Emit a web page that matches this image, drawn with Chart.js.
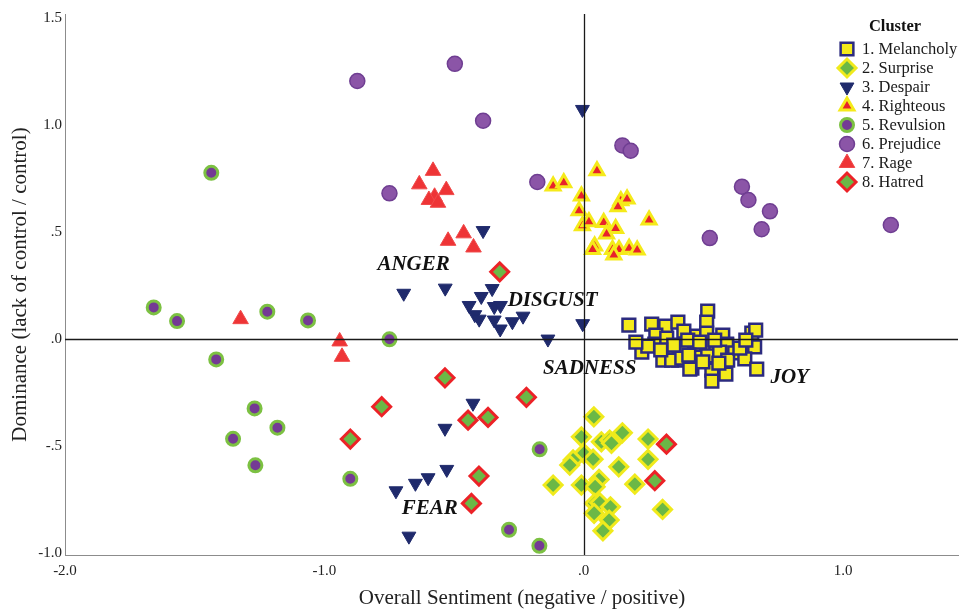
<!DOCTYPE html>
<html><head><meta charset="utf-8">
<script src="https://cdn.jsdelivr.net/npm/chart.js@4/dist/chart.umd.min.js"></script>
<style>html,body{margin:0;padding:0;background:#fff}#wrap{width:959px;height:612px}</style>
</head><body><div id="wrap"><canvas id="c" width="959" height="612"></canvas></div>
<script>
// ---------- DATA ----------
const clusterNames = ['1. Melancholy','2. Surprise','3. Despair','4. Righteous','5. Revulsion','6. Prejudice','7. Rage','8. Hatred'];
const xTicks = [-2, -1, 0, 1];
const yTicks = [-1, -0.5, 0, 0.5, 1, 1.5];
const emotionLabels = ['ANGER','DISGUST','SADNESS','JOY','FEAR'];
const emotionX = [-0.656, -0.12, 0.023, 0.794, -0.594];
const emotionY = [0.346, 0.182, -0.136, -0.182, -0.794];

const melancholy = [[0.174,0.065],[0.262,0.070],[0.316,0.061],[0.363,0.079],[0.386,0.037],[0.478,0.131],[0.474,0.079],[0.436,0.014],[0.474,0.028],[0.536,0.019],[0.551,-0.023],[0.648,0.028],[0.663,0.042],[0.659,-0.037],[0.224,-0.061],[0.278,0.019],[0.274,-0.023],[0.320,0.005],[0.320,-0.061],[0.366,-0.098],[0.378,-0.047],[0.417,-0.136],[0.436,-0.037],[0.474,-0.028],[0.509,-0.065],[0.551,-0.028],[0.582,-0.065],[0.621,-0.093],[0.436,-0.084],[0.478,-0.079],[0.524,-0.061],[0.555,-0.098],[0.305,-0.098],[0.339,-0.098],[0.378,-0.089],[0.409,-0.140],[0.494,-0.145],[0.548,-0.164],[0.667,-0.140],[0.494,-0.196],[0.401,-0.005],[0.447,-0.014],[0.347,-0.028],[0.247,-0.033],[0.297,-0.051],[0.505,-0.005],[0.602,-0.042],[0.625,-0.005],[0.201,-0.014],[0.405,-0.075],[0.459,-0.107],[0.521,-0.112]];
const surprise = [[0.039,-0.363],[-0.009,-0.457],[0.068,-0.480],[0.100,-0.472],[0.107,-0.487],[0.149,-0.438],[0.248,-0.467],[0.000,-0.534],[0.036,-0.561],[-0.041,-0.565],[-0.054,-0.589],[0.135,-0.597],[0.248,-0.562],[-0.118,-0.682],[-0.009,-0.682],[0.059,-0.656],[0.044,-0.690],[0.197,-0.678],[0.042,-0.768],[0.062,-0.765],[0.103,-0.784],[0.040,-0.814],[0.098,-0.846],[0.304,-0.796],[0.074,-0.896]];
const despair = [[-0.005,1.073],[-0.388,0.507],[-0.694,0.214],[-0.534,0.238],[-0.353,0.236],[-0.395,0.199],[-0.442,0.157],[-0.345,0.152],[-0.321,0.157],[-0.420,0.114],[-0.403,0.093],[-0.345,0.089],[-0.275,0.081],[-0.234,0.107],[-0.322,0.047],[-0.138,0.000],[-0.004,0.072],[-0.427,-0.300],[-0.535,-0.417],[-0.528,-0.609],[-0.600,-0.648],[-0.649,-0.674],[-0.724,-0.709],[-0.674,-0.921]];
const righteous = [[0.051,0.786],[-0.118,0.715],[-0.077,0.730],[-0.009,0.668],[-0.018,0.600],[-0.005,0.529],[0.020,0.548],[0.077,0.545],[0.123,0.517],[0.088,0.491],[0.143,0.646],[0.167,0.654],[0.132,0.618],[0.252,0.556],[0.042,0.435],[0.034,0.419],[0.111,0.419],[0.136,0.419],[0.175,0.424],[0.206,0.416],[0.116,0.393]];
const revulsion = [[-1.436,0.777],[-1.658,0.148],[-1.568,0.084],[-1.220,0.128],[-1.063,0.087],[-0.749,-0.001],[-1.417,-0.095],[-1.269,-0.324],[-1.181,-0.414],[-1.352,-0.466],[-1.266,-0.590],[-0.900,-0.653],[-0.170,-0.515],[-0.288,-0.891],[-0.171,-0.966]];
const prejudice = [[-0.873,1.206],[-0.497,1.286],[-0.388,1.020],[0.149,0.905],[0.181,0.880],[-0.179,0.734],[-0.749,0.681],[0.610,0.712],[0.635,0.650],[0.718,0.597],[0.686,0.513],[0.486,0.472],[1.184,0.533]];
const rage = [[-0.581,0.786],[-0.634,0.723],[-0.530,0.696],[-0.575,0.665],[-0.597,0.650],[-0.562,0.637],[-0.463,0.494],[-0.523,0.459],[-0.425,0.428],[-1.323,0.093],[-0.941,-0.011],[-0.932,-0.083]];
const hatred = [[-0.324,0.314],[-0.535,-0.181],[-0.221,-0.272],[-0.779,-0.316],[-0.446,-0.379],[-0.369,-0.366],[-0.900,-0.467],[0.319,-0.491],[0.274,-0.662],[-0.404,-0.640],[-0.433,-0.768]];

const seriesData = [melancholy, surprise, despair, righteous, revulsion, prejudice, rage, hatred];

// ---------- STYLES ----------
const styles = [
  {pointStyle:'rect',     rotation:0,   radius:9,   bg:'#f4ea1b', border:'#2c2b7f', bw:2.5},
  {pointStyle:'rectRot',  rotation:0,   radius:9,   bg:'#6bb846', border:'#f0ea1c', bw:3},
  {pointStyle:'triangle', rotation:180, radius:8,   bg:'#1f2a6c', border:'#1f2a6c', bw:1},
  {pointStyle:'triangle', rotation:0,   radius:8,   bg:'#e8222a', border:'#f5ea1a', bw:3},
  {pointStyle:'circle',   rotation:0,   radius:6.5, bg:'#743a94', border:'#7cc142', bw:3},
  {pointStyle:'circle',   rotation:0,   radius:7.5, bg:'#8b55a7', border:'#6f3e92', bw:1.5},
  {pointStyle:'triangle', rotation:0,   radius:9,   bg:'#ee3436', border:'#f04a4a', bw:1},
  {pointStyle:'rectRot',  rotation:0,   radius:9,   bg:'#6bb846', border:'#ec2227', bw:3}
];

const SERIF = '"Liberation Serif", "Times New Roman", serif';
const fmt = v => { let s = Math.abs(v).toFixed(1); if (s.startsWith('0')) s = s.slice(1); return (v < 0 ? '-' : '') + s; };

const datasets = seriesData.map((arr, i) => ({
  label: clusterNames[i],
  data: arr.map(p => ({x: p[0], y: p[1]})),
  pointStyle: styles[i].pointStyle,
  pointRotation: styles[i].rotation,
  pointRadius: styles[i].radius,
  pointHoverRadius: styles[i].radius,
  backgroundColor: styles[i].bg,
  borderColor: styles[i].border,
  pointBorderWidth: styles[i].bw,
  order: 7 - i
}));

const overlay = {
  id: 'overlay',
  afterDatasetsDraw(chart) {
    const {ctx, chartArea: a, scales: {x, y}} = chart;
    ctx.save();
    // reference lines
    ctx.strokeStyle = '#1a1a1a';
    ctx.lineWidth = 1.3;
    const x0 = Math.round(x.getPixelForValue(0)) + 0.5;
    const y0 = Math.round(y.getPixelForValue(0)) + 0.5;
    ctx.beginPath();
    ctx.moveTo(x0, a.top); ctx.lineTo(x0, a.bottom);
    ctx.moveTo(a.left, y0); ctx.lineTo(a.right, y0);
    ctx.stroke();
    // emotion labels
    ctx.fillStyle = '#111';
    ctx.font = 'bold italic 21px ' + SERIF;
    ctx.textAlign = 'center';
    ctx.textBaseline = 'middle';
    emotionLabels.forEach((t, i) => {
      ctx.fillText(t, x.getPixelForValue(emotionX[i]), y.getPixelForValue(emotionY[i]));
    });
    // x axis title
    ctx.fillStyle = '#222';
    ctx.font = '21px ' + SERIF;
    ctx.fillText('Overall Sentiment (negative / positive)', 522, 598);
    // legend
    ctx.fillStyle = '#111';
    ctx.font = 'bold 16.5px ' + SERIF;
    ctx.fillText('Cluster', 895, 27);
    ctx.font = '16.5px ' + SERIF;
    ctx.textAlign = 'left';
    clusterNames.forEach((name, i) => {
      const yy = 49 + i * 19;
      const st = styles[i];
      ctx.fillStyle = st.bg;
      ctx.strokeStyle = st.border;
      ctx.lineWidth = st.bw;
      Chart.helpers.drawPoint(ctx, {pointStyle: st.pointStyle, rotation: st.rotation, radius: st.radius, borderWidth: st.bw}, 847, yy);
      ctx.fillStyle = '#1a1a1a';
      ctx.fillText(name, 862, yy + 1);
    });
    ctx.restore();
  }
};

new Chart(document.getElementById('c'), {
  type: 'scatter',
  data: {datasets},
  plugins: [overlay],
  options: {
    responsive: false,
    devicePixelRatio: 1,
    animation: false,
    layout: {autoPadding: false, padding: {top: 14, right: 1, left: 0, bottom: 0}},
    plugins: {legend: {display: false}, tooltip: {enabled: false}},
    scales: {
      x: {
        type: 'linear', min: -2, max: 1.443,
        // an unlabeled end tick keeps the layout from reserving room for the last label
        afterBuildTicks: s => { s.ticks = xTicks.map(v => ({value: v})).concat([{value: s.max}]); },
        afterFit: s => { s.height = 57; s.paddingLeft = 0; s.paddingRight = 0; },
        grid: {display: false, drawTicks: false, tickLength: 0},
        border: {display: true, color: '#8c8c8c', width: 1},
        ticks: {callback: v => xTicks.includes(v) ? fmt(v) : '', font: {family: SERIF, size: 15}, color: '#222', padding: 7, maxRotation: 0, autoSkip: false},
        title: {display: false}
      },
      y: {
        type: 'linear', min: -1.009, max: 1.519,
        afterBuildTicks: s => { s.ticks = yTicks.map(v => ({value: v})); },
        afterFit: s => { s.width = 65; s.paddingTop = 0; s.paddingBottom = 0; },
        grid: {display: false, drawTicks: false, tickLength: 0},
        border: {display: true, color: '#8c8c8c', width: 1},
        ticks: {callback: v => fmt(v), font: {family: SERIF, size: 15}, color: '#222', padding: 3, autoSkip: false},
        title: {display: true, text: 'Dominance (lack of control / control)', font: {family: SERIF, size: 21}, color: '#222', padding: {top: 8, bottom: 0}}
      }
    }
  }
});
</script></body></html>
